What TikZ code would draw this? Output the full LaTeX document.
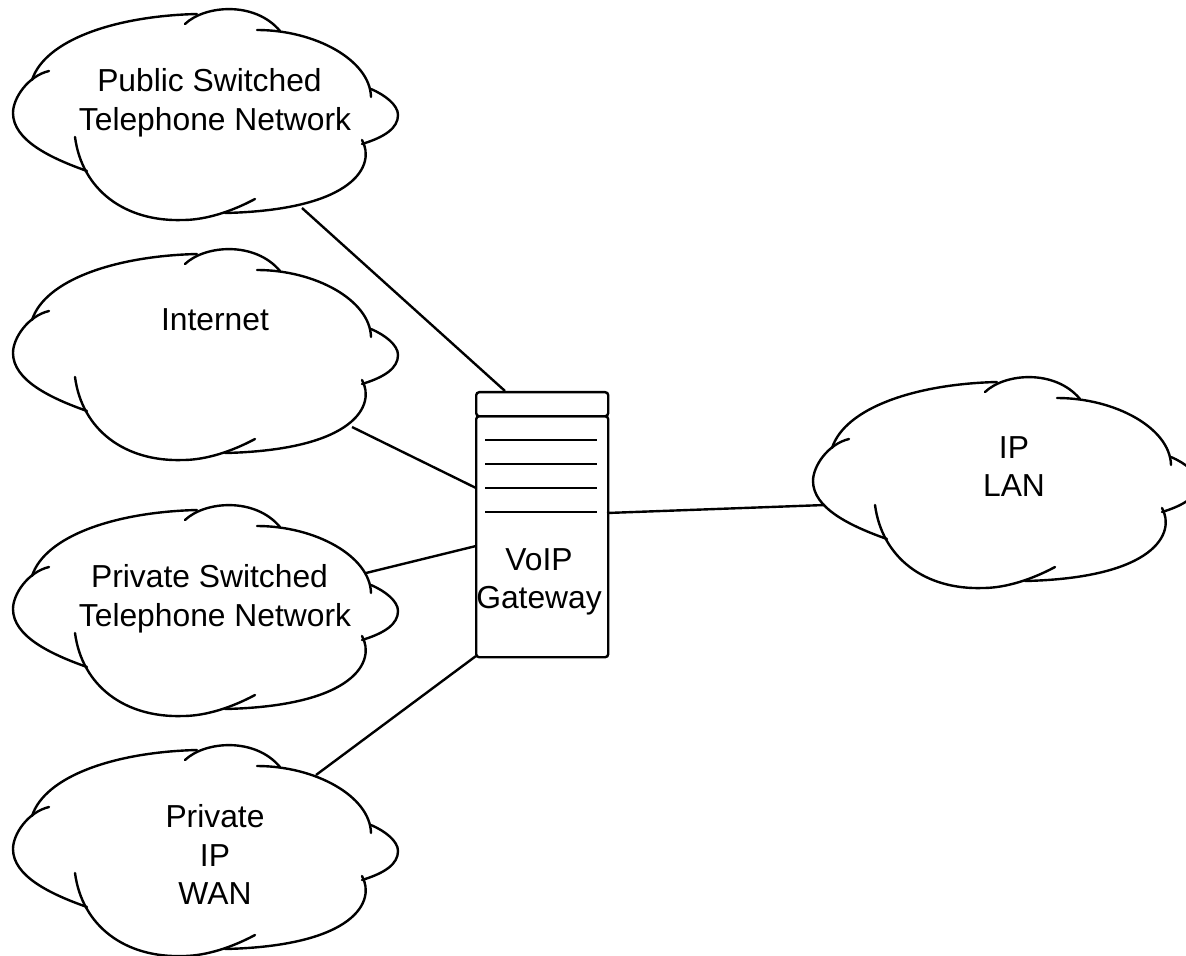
\documentclass[tikz,border=0pt]{standalone}
\usepackage{fontspec}
\setmainfont{Liberation Sans}
\usetikzlibrary{positioning}
\tikzstyle{outline}=[line width=1.2pt,line cap=round]
\tikzstyle{link}=[draw,line width=1.2pt]
\tikzstyle{netlabel}=[align=center,inner sep=0pt,font=\fontsize{15.9}{19.3}\selectfont]
\tikzstyle{gatebox}=[draw,line width=1.2pt,rounded corners=1.5pt,minimum width=66pt,inner sep=0pt]
\tikzset{
  pics/netcloud/.style={code={
    \draw[outline] (87,171) .. controls (50,158) and (13,140) .. (13,113) .. controls (13,98) and (28,76) .. (49,71);
    \draw[outline] (32,80) .. controls (45,40) and (115,16) .. (197,14);
    \draw[outline] (185,24) .. controls (205,5) and (255,1) .. (280,31);
    \draw[outline] (257,30) .. controls (315,30) and (370,60) .. (371,97);
    \draw[outline] (371,89) .. controls (385,95) and (398,105) .. (398,115) .. controls (398,128) and (385,137) .. (362,144);
    \draw[outline] (362,140) .. controls (376,165) and (355,210) .. (225,213);
    \draw[outline] (255,199) .. controls (225,215) and (200,220) .. (183,220) .. controls (125,222) and (82,190) .. (75,137);
  }}
}

\begin{document}
\begin{tikzpicture}[x=0.5pt,y=-0.5pt]

  \useasboundingbox (0,0) rectangle (1186,956);

  % clouds
  \foreach \x/\y/\dx/\name/\label in {0/0/215/pstn/{Public Switched\hspace*{5.5pt}\\Telephone Network}, 0/240/215/internet/{Internet}, 0/496/215/pbx/{Private Switched\hspace*{5.5pt}\\Telephone Network}, 0/736/215/wan/{Private\\IP\\WAN}, 800/368/214/lan/{IP\\LAN}}
  {
    \pic at (\x,\y) {netcloud};
    \node[netlabel,anchor=north] (\name) at (\x+\dx,\y+68) {\label};
  }

  % gateway
  \node[gatebox,minimum height=12pt,anchor=north west] (gwtop) at (475,391) {};
  \node[gatebox,minimum height=120.5pt,anchor=north west] (gwbody) at (475,415) {};
  \foreach \y in {440,464,488,512}
    \draw[outline,line cap=butt] (485,\y) -- (597,\y);
  \node[netlabel,anchor=north] (gwlabel) at (539,548) {VoIP\\Gateway};

  % ports
  \coordinate (pstnport) at (302,208);
  \coordinate (netport) at (352,427);
  \coordinate (pbxport) at (366,573);
  \coordinate (wanport) at (316,775);
  \coordinate (lanport) at (825,505);
  \coordinate (gwa) at (505,391);
  \coordinate (gwb) at (476,488);
  \coordinate (gwc) at (476,546);
  \coordinate (gwd) at (476,656);
  \coordinate (gwe) at (607,513);

  \foreach \source/\dest in {pstnport/gwa, netport/gwb, pbxport/gwc, wanport/gwd, gwe/lanport}
    \draw[link] (\source) -- (\dest);

\end{tikzpicture}
\end{document}
